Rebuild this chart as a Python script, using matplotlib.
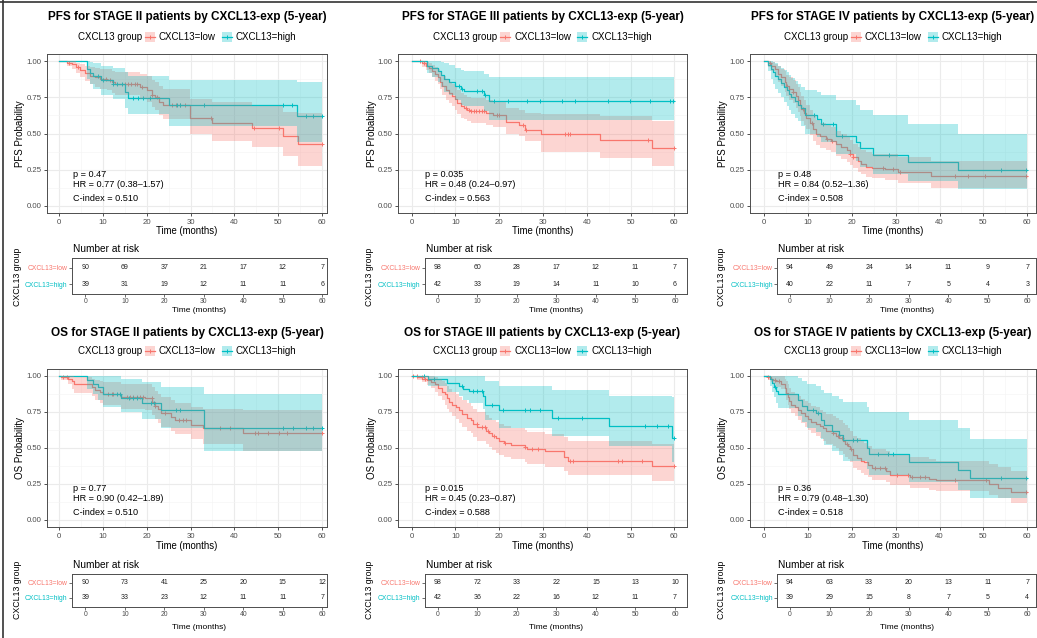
import numpy as np
import matplotlib
matplotlib.use("Agg")
import matplotlib.pyplot as plt
from matplotlib.lines import Line2D
from matplotlib.patches import Rectangle
from matplotlib.ticker import MultipleLocator

plt.rcParams['font.family'] = ['Liberation Sans', 'DejaVu Sans']

RED = '#F8766D'
TEAL = '#00BFC4'

# ---------------- data ----------------
group_labels = ["CXCL13=low", "CXCL13=high"]
risk_times = [0, 10, 20, 30, 40, 50, 60]

# PFS stage II
pfs2_low_t  = [0, 1.7, 2.8, 3.8, 4.7, 5.9, 7.0, 8.2, 9.3, 10.8, 12.1, 12.7, 18.4, 20.0, 21.1, 21.9, 22.9, 23.8, 29.9, 34.9, 44.0, 51.2, 54.6]
pfs2_low_s  = [1.0, 0.99, 0.98, 0.96, 0.94, 0.92, 0.90, 0.89, 0.88, 0.87, 0.855, 0.84, 0.82, 0.80, 0.77, 0.75, 0.72, 0.70, 0.61, 0.575, 0.54, 0.485, 0.425]
pfs2_low_lo = [1.0, 0.97, 0.95, 0.92, 0.89, 0.865, 0.84, 0.825, 0.81, 0.80, 0.78, 0.765, 0.74, 0.72, 0.685, 0.66, 0.63, 0.60, 0.50, 0.445, 0.405, 0.345, 0.277]
pfs2_low_hi = [1.0, 1.0, 1.0, 0.99, 0.98, 0.97, 0.96, 0.955, 0.95, 0.945, 0.935, 0.925, 0.91, 0.895, 0.87, 0.855, 0.83, 0.81, 0.74, 0.72, 0.69, 0.65, 0.64]
pfs2_low_cens = [2.2, 4.2, 10.7, 11.6, 15.0, 15.8, 16.5, 17.3, 17.8, 18.8, 21.3, 22.3, 25.7, 26.7, 27.6, 28.7, 34.8, 44.5, 50.3, 60.0]
pfs2_high_t  = [0, 6.3, 7.1, 7.8, 9.5, 12.3, 15.0, 15.8, 25.0, 54.3]
pfs2_high_s  = [1.0, 0.95, 0.92, 0.90, 0.87, 0.845, 0.79, 0.745, 0.70, 0.62]
pfs2_high_lo = [1.0, 0.88, 0.84, 0.81, 0.77, 0.74, 0.68, 0.635, 0.555, 0.44]
pfs2_high_hi = [1.0, 1.0, 0.995, 0.985, 0.97, 0.955, 0.925, 0.895, 0.87, 0.86]
pfs2_high_cens = [8.9, 10.1, 12.3, 13.3, 14.3, 16.9, 18.1, 19.2, 20.7, 26.8, 27.6, 33.2, 51.2, 53.1, 56.4, 58.1, 60.0]
pfs2_risk_low  = [90, 69, 37, 21, 17, 12, 7]
pfs2_risk_high = [39, 31, 19, 12, 11, 11, 6]
pfs2_stats = ["0.47", "0.77 (0.38\u20131.57)", "0.510"]

# PFS stage III
pfs3_low_t  = [0, 2.4, 3.2, 4.0, 4.6, 5.3, 5.9, 6.5, 7.0, 7.8, 8.5, 9.3, 9.9, 10.4, 11.2, 12.0, 12.7, 13.5, 17.0, 18.5, 21.5, 24.5, 26.0, 29.5, 43.0, 55.0]
pfs3_low_s  = [1.0, 0.985, 0.97, 0.955, 0.93, 0.91, 0.89, 0.86, 0.83, 0.80, 0.78, 0.76, 0.74, 0.71, 0.69, 0.68, 0.665, 0.655, 0.64, 0.625, 0.578, 0.56, 0.525, 0.497, 0.455, 0.40]
pfs3_low_lo = [1.0, 0.96, 0.94, 0.92, 0.89, 0.865, 0.84, 0.805, 0.77, 0.735, 0.71, 0.69, 0.665, 0.635, 0.61, 0.60, 0.585, 0.575, 0.56, 0.545, 0.50, 0.48, 0.445, 0.375, 0.33, 0.272]
pfs3_low_hi = [1.0, 1.0, 0.995, 0.99, 0.975, 0.96, 0.945, 0.925, 0.90, 0.875, 0.86, 0.84, 0.825, 0.80, 0.78, 0.77, 0.755, 0.745, 0.73, 0.715, 0.68, 0.665, 0.645, 0.635, 0.62, 0.59]
pfs3_low_cens = [2.0, 2.8, 12.5, 13.0, 13.6, 14.2, 14.8, 15.4, 16.0, 16.6, 19.5, 20.0, 25.5, 26.2, 35.0, 35.6, 36.2, 54.0, 60.0]
pfs3_high_t  = [0, 3.6, 4.7, 5.9, 6.6, 7.4, 8.5, 10.0, 11.2, 12.0, 16.5, 17.7]
pfs3_high_s  = [1.0, 0.97, 0.955, 0.935, 0.905, 0.88, 0.86, 0.83, 0.805, 0.795, 0.77, 0.722]
pfs3_high_lo = [1.0, 0.92, 0.89, 0.86, 0.82, 0.79, 0.765, 0.73, 0.70, 0.69, 0.655, 0.595]
pfs3_high_hi = [1.0, 1.0, 1.0, 1.0, 0.995, 0.985, 0.975, 0.955, 0.94, 0.93, 0.91, 0.89]
pfs3_high_cens = [10.7, 11.6, 14.9, 16.0, 16.8, 18.7, 22.1, 26.3, 29.3, 34.3, 37.3, 44.9, 49.9, 54.5, 59.0, 59.8]
pfs3_risk_low  = [98, 60, 28, 17, 12, 11, 7]
pfs3_risk_high = [42, 33, 19, 14, 11, 10, 6]
pfs3_stats = ["0.035", "0.48 (0.24\u20130.97)", "0.563"]

# PFS stage IV
pfs4_low_t  = [0, 0.9, 1.7, 2.4, 3.2, 3.9, 4.7, 5.1, 5.8, 6.6, 7.4, 7.7, 8.1, 8.5, 9.1, 9.6, 10.4, 11.2, 11.9, 12.7, 14.2, 15.3, 16.5, 17.6, 18.8, 19.5, 20.3, 21.4, 22.2, 23.3, 24.5, 27.5, 30.5, 38.0]
pfs4_low_s  = [1.0, 0.985, 0.97, 0.945, 0.915, 0.89, 0.86, 0.83, 0.81, 0.785, 0.76, 0.73, 0.70, 0.67, 0.64, 0.61, 0.57, 0.53, 0.50, 0.48, 0.465, 0.45, 0.425, 0.405, 0.385, 0.36, 0.335, 0.31, 0.29, 0.27, 0.263, 0.255, 0.235, 0.205]
pfs4_low_lo = [1.0, 0.96, 0.93, 0.90, 0.86, 0.83, 0.79, 0.76, 0.735, 0.71, 0.68, 0.65, 0.62, 0.59, 0.56, 0.53, 0.49, 0.45, 0.42, 0.40, 0.385, 0.37, 0.345, 0.325, 0.305, 0.28, 0.26, 0.235, 0.22, 0.20, 0.19, 0.18, 0.155, 0.125]
pfs4_low_hi = [1.0, 1.0, 0.995, 0.98, 0.965, 0.95, 0.93, 0.905, 0.89, 0.87, 0.845, 0.82, 0.79, 0.76, 0.73, 0.70, 0.665, 0.625, 0.595, 0.575, 0.56, 0.545, 0.52, 0.50, 0.48, 0.455, 0.43, 0.405, 0.385, 0.37, 0.36, 0.355, 0.335, 0.31]
pfs4_low_cens = [1.4, 5.2, 6.7, 9.0, 10.9, 14.3, 15.4, 19.6, 20.3, 27.2, 29.5, 31.0, 43.5, 46.5, 50.3, 59.8]
pfs4_high_t  = [0, 1.0, 1.7, 2.1, 2.6, 3.2, 3.9, 4.6, 5.3, 5.6, 6.1, 7.0, 7.7, 8.5, 9.3, 12.0, 13.0, 16.5, 21.0, 21.8, 24.8, 32.8, 44.2]
pfs4_high_s  = [1.0, 0.975, 0.95, 0.925, 0.90, 0.875, 0.85, 0.825, 0.80, 0.775, 0.75, 0.725, 0.70, 0.675, 0.625, 0.60, 0.565, 0.485, 0.44, 0.40, 0.35, 0.30, 0.245]
pfs4_high_lo = [1.0, 0.93, 0.88, 0.845, 0.81, 0.78, 0.75, 0.72, 0.69, 0.665, 0.635, 0.61, 0.585, 0.555, 0.50, 0.475, 0.44, 0.36, 0.31, 0.27, 0.22, 0.17, 0.117]
pfs4_high_hi = [1.0, 1.0, 1.0, 0.995, 0.985, 0.97, 0.955, 0.94, 0.925, 0.905, 0.885, 0.865, 0.845, 0.82, 0.80, 0.79, 0.77, 0.735, 0.70, 0.665, 0.625, 0.565, 0.50]
pfs4_high_cens = [11.4, 13.5, 15.8, 17.7, 28.4, 54.1, 59.8]
pfs4_risk_low  = [94, 49, 24, 14, 11, 9, 7]
pfs4_risk_high = [40, 22, 11, 7, 5, 4, 3]
pfs4_stats = ["0.48", "0.84 (0.52\u20131.36)", "0.508"]

# OS stage II
os2_low_t  = [0, 0.5, 2.1, 2.8, 3.3, 7.4, 8.2, 9.3, 10.0, 14.0, 19.5, 21.3, 21.8, 22.5, 23.2, 25.5, 26.4, 30.0, 32.9, 41.9]
os2_low_s  = [1.0, 0.99, 0.975, 0.96, 0.94, 0.92, 0.90, 0.885, 0.875, 0.855, 0.845, 0.82, 0.79, 0.77, 0.74, 0.715, 0.69, 0.66, 0.635, 0.60]
os2_low_lo = [1.0, 0.97, 0.94, 0.91, 0.88, 0.86, 0.83, 0.81, 0.80, 0.77, 0.76, 0.73, 0.70, 0.67, 0.645, 0.62, 0.595, 0.56, 0.53, 0.475]
os2_low_hi = [1.0, 1.0, 1.0, 0.995, 0.99, 0.98, 0.97, 0.96, 0.955, 0.945, 0.94, 0.92, 0.895, 0.875, 0.85, 0.83, 0.81, 0.785, 0.77, 0.765]
os2_low_cens = [0.8, 1.7, 11.2, 12.0, 12.3, 15.4, 16.2, 16.9, 17.7, 18.4, 19.2, 21.1, 21.9, 24.2, 27.4, 28.2, 28.9, 36.7, 39.0, 44.7, 45.5, 47.8, 50.3, 52.1, 60.0]
os2_high_t  = [0, 6.4, 7.8, 8.9, 10.1, 14.0, 19.0, 23.2, 33.0]
os2_high_s  = [1.0, 0.97, 0.945, 0.92, 0.875, 0.845, 0.81, 0.76, 0.64]
os2_high_lo = [1.0, 0.91, 0.87, 0.83, 0.78, 0.745, 0.70, 0.64, 0.48]
os2_high_hi = [1.0, 1.0, 1.0, 1.0, 1.0, 0.98, 0.955, 0.92, 0.875]
os2_high_cens = [13.1, 13.9, 16.0, 16.9, 17.7, 20.9, 21.6, 26.7, 27.6, 51.2, 53.4, 56.4, 57.9, 60.0]
os2_risk_low  = [90, 73, 41, 25, 20, 15, 12]
os2_risk_high = [39, 33, 23, 12, 11, 11, 7]
os2_stats = ["0.77", "0.90 (0.42\u20131.89)", "0.510"]

# OS stage III
os3_low_t  = [0, 1.3, 2.4, 3.6, 4.3, 5.3, 6.1, 6.9, 7.6, 8.1, 8.5, 9.3, 10.1, 10.8, 11.6, 12.7, 13.5, 13.9, 15.0, 16.9, 17.7, 18.4, 19.2, 20.0, 21.1, 22.6, 25.8, 26.4, 30.5, 34.8, 35.6, 54.8]
os3_low_s  = [1.0, 0.99, 0.98, 0.97, 0.955, 0.94, 0.915, 0.89, 0.87, 0.845, 0.82, 0.80, 0.78, 0.76, 0.735, 0.71, 0.69, 0.665, 0.645, 0.62, 0.60, 0.58, 0.565, 0.55, 0.535, 0.52, 0.505, 0.49, 0.475, 0.44, 0.41, 0.375]
os3_low_lo = [1.0, 0.97, 0.955, 0.935, 0.915, 0.89, 0.86, 0.83, 0.80, 0.77, 0.745, 0.72, 0.70, 0.675, 0.645, 0.62, 0.60, 0.575, 0.55, 0.525, 0.505, 0.485, 0.465, 0.45, 0.435, 0.42, 0.405, 0.39, 0.37, 0.34, 0.31, 0.27]
os3_low_hi = [1.0, 1.0, 1.0, 1.0, 0.995, 0.99, 0.98, 0.965, 0.95, 0.93, 0.91, 0.89, 0.87, 0.855, 0.835, 0.81, 0.79, 0.77, 0.75, 0.73, 0.71, 0.695, 0.68, 0.665, 0.65, 0.64, 0.625, 0.61, 0.595, 0.575, 0.55, 0.53]
os3_low_cens = [0.4, 1.1, 2.3, 3.0, 14.9, 16.0, 16.7, 17.5, 18.7, 21.3, 25.9, 27.4, 28.9, 36.2, 36.8, 47.2, 48.0, 52.6, 60.0]
os3_high_t  = [0, 3.8, 8.0, 10.7, 11.8, 13.0, 16.3, 16.8, 20.0, 32.0, 45.0, 59.5]
os3_high_s  = [1.0, 0.975, 0.95, 0.93, 0.91, 0.895, 0.86, 0.80, 0.76, 0.71, 0.65, 0.57]
os3_high_lo = [1.0, 0.93, 0.89, 0.86, 0.83, 0.81, 0.77, 0.69, 0.64, 0.585, 0.515, 0.40]
os3_high_hi = [1.0, 1.0, 1.0, 1.0, 1.0, 1.0, 1.0, 0.965, 0.93, 0.90, 0.86, 0.85]
os3_high_cens = [2.7, 5.0, 11.4, 14.1, 14.9, 16.0, 18.3, 20.9, 25.9, 27.0, 29.3, 33.5, 38.9, 53.3, 56.0, 58.6, 60.0]
os3_risk_low  = [98, 72, 33, 22, 15, 13, 10]
os3_risk_high = [42, 36, 22, 16, 12, 11, 7]
os3_stats = ["0.015", "0.45 (0.23\u20130.87)", "0.588"]

# OS stage IV
os4_low_t  = [0, 0.9, 1.7, 2.1, 2.8, 3.9, 4.7, 5.1, 5.5, 5.8, 6.2, 7.0, 7.7, 8.5, 9.3, 10.0, 10.8, 11.9, 12.7, 13.4, 14.2, 15.7, 16.5, 17.2, 18.0, 18.4, 19.1, 19.6, 20.3, 21.2, 22.0, 22.8, 23.8, 24.5, 27.9, 28.7, 33.2, 37.7, 39.3, 51.2, 53.4, 56.3]
os4_low_s  = [1.0, 0.99, 0.98, 0.97, 0.96, 0.945, 0.915, 0.88, 0.855, 0.825, 0.80, 0.78, 0.76, 0.74, 0.72, 0.70, 0.68, 0.665, 0.65, 0.635, 0.615, 0.60, 0.585, 0.57, 0.55, 0.53, 0.51, 0.49, 0.45, 0.43, 0.41, 0.40, 0.38, 0.36, 0.34, 0.315, 0.30, 0.285, 0.275, 0.25, 0.225, 0.197]
os4_low_lo = [1.0, 0.97, 0.955, 0.94, 0.925, 0.905, 0.87, 0.83, 0.80, 0.77, 0.74, 0.72, 0.695, 0.67, 0.645, 0.625, 0.60, 0.585, 0.57, 0.55, 0.53, 0.515, 0.50, 0.48, 0.46, 0.44, 0.42, 0.40, 0.36, 0.345, 0.325, 0.315, 0.295, 0.28, 0.26, 0.24, 0.225, 0.21, 0.20, 0.175, 0.15, 0.12]
os4_low_hi = [1.0, 1.0, 1.0, 1.0, 1.0, 0.995, 0.98, 0.96, 0.94, 0.915, 0.89, 0.875, 0.86, 0.84, 0.825, 0.81, 0.79, 0.78, 0.765, 0.75, 0.735, 0.72, 0.71, 0.695, 0.675, 0.655, 0.64, 0.62, 0.585, 0.565, 0.545, 0.535, 0.515, 0.495, 0.475, 0.45, 0.435, 0.42, 0.41, 0.39, 0.37, 0.34]
os4_low_cens = [1.0, 2.4, 3.5, 15.8, 16.8, 17.7, 18.8, 19.8, 25.3, 26.4, 27.5, 30.2, 32.9, 33.7, 35.5, 36.7, 43.5, 50.6, 59.8]
os4_high_t  = [0, 1.3, 1.8, 2.3, 2.8, 3.3, 7.8, 8.7, 9.9, 11.9, 13.0, 13.6, 15.4, 17.2, 18.0, 23.4, 24.0, 33.0, 44.3, 46.9]
os4_high_s  = [1.0, 0.975, 0.95, 0.92, 0.895, 0.87, 0.83, 0.79, 0.76, 0.74, 0.69, 0.655, 0.62, 0.59, 0.555, 0.50, 0.46, 0.405, 0.345, 0.29]
os4_high_lo = [1.0, 0.93, 0.89, 0.85, 0.81, 0.775, 0.72, 0.68, 0.64, 0.61, 0.56, 0.52, 0.48, 0.45, 0.41, 0.355, 0.315, 0.26, 0.21, 0.155]
os4_high_hi = [1.0, 1.0, 1.0, 1.0, 1.0, 1.0, 0.985, 0.96, 0.94, 0.93, 0.90, 0.88, 0.86, 0.84, 0.82, 0.78, 0.75, 0.69, 0.635, 0.56]
os4_high_cens = [2.5, 11.2, 12.4, 20.3, 21.1, 26.0, 28.3, 29.5, 54.1, 59.8]
os4_risk_low  = [94, 63, 33, 20, 13, 11, 7]
os4_risk_high = [39, 29, 15, 8, 7, 5, 4]
os4_stats = ["0.36", "0.79 (0.48\u20131.30)", "0.518"]

panels = [
    dict(title="PFS for STAGE II patients by CXCL13-exp (5-year)", ylab="PFS Probability", row=0, col=0,
         low=(pfs2_low_t, pfs2_low_s, pfs2_low_lo, pfs2_low_hi, pfs2_low_cens),
         high=(pfs2_high_t, pfs2_high_s, pfs2_high_lo, pfs2_high_hi, pfs2_high_cens),
         risk=(pfs2_risk_low, pfs2_risk_high), stats=pfs2_stats),
    dict(title="PFS for STAGE III patients by CXCL13-exp (5-year)", ylab="PFS Probability", row=0, col=1,
         low=(pfs3_low_t, pfs3_low_s, pfs3_low_lo, pfs3_low_hi, pfs3_low_cens),
         high=(pfs3_high_t, pfs3_high_s, pfs3_high_lo, pfs3_high_hi, pfs3_high_cens),
         risk=(pfs3_risk_low, pfs3_risk_high), stats=pfs3_stats),
    dict(title="PFS for STAGE IV patients by CXCL13-exp (5-year)", ylab="PFS Probability", row=0, col=2,
         low=(pfs4_low_t, pfs4_low_s, pfs4_low_lo, pfs4_low_hi, pfs4_low_cens),
         high=(pfs4_high_t, pfs4_high_s, pfs4_high_lo, pfs4_high_hi, pfs4_high_cens),
         risk=(pfs4_risk_low, pfs4_risk_high), stats=pfs4_stats),
    dict(title="OS for STAGE II patients by CXCL13-exp (5-year)", ylab="OS Probability", row=1, col=0,
         low=(os2_low_t, os2_low_s, os2_low_lo, os2_low_hi, os2_low_cens),
         high=(os2_high_t, os2_high_s, os2_high_lo, os2_high_hi, os2_high_cens),
         risk=(os2_risk_low, os2_risk_high), stats=os2_stats),
    dict(title="OS for STAGE III patients by CXCL13-exp (5-year)", ylab="OS Probability", row=1, col=1,
         low=(os3_low_t, os3_low_s, os3_low_lo, os3_low_hi, os3_low_cens),
         high=(os3_high_t, os3_high_s, os3_high_lo, os3_high_hi, os3_high_cens),
         risk=(os3_risk_low, os3_risk_high), stats=os3_stats),
    dict(title="OS for STAGE IV patients by CXCL13-exp (5-year)", ylab="OS Probability", row=1, col=2,
         low=(os4_low_t, os4_low_s, os4_low_lo, os4_low_hi, os4_low_cens),
         high=(os4_high_t, os4_high_s, os4_high_lo, os4_high_hi, os4_high_cens),
         risk=(os4_risk_low, os4_risk_high), stats=os4_stats),
]

# ---------------- layout (pixels) ----------------
W, H = 1037, 638
COLS = [
    dict(l=47, r=327, x0=59.3, x60=321.7, tl=72, tx0=85.3, tx60=322.3, ylab_x=20, grp_x=18),
    dict(l=398.3, r=686.7, x0=411.7, x60=674.3, tl=425, tx0=437.7, tx60=675, ylab_x=371.7, grp_x=370),
    dict(l=750, r=1036, x0=764, x60=1027.3, tl=777.3, tx0=790, tx60=1027.3, ylab_x=723.3, grp_x=721.7),
]
ROWS = [
    dict(t=54, b=213, y1=61.3, y0=205.7, title_y=17, leg_y=36.7, xlab_y=230.7, nar_y=249,
         tt=258, tb=294, txlab_y=310, grp_y=277),
    dict(t=368.7, b=527.3, y1=375.7, y0=520, title_y=333, leg_y=351.3, xlab_y=546.3, nar_y=564.7,
         tt=573.7, tb=607, txlab_y=627.5, grp_y=590),
]

fig = plt.figure(figsize=(W / 100, H / 100), dpi=100)
fig.patch.set_facecolor('white')
renderer = fig.canvas.get_renderer()


def add_ax(l, t, r, b):
    return fig.add_axes([l / W, 1 - b / H, (r - l) / W, (b - t) / H])


def ftext(x, y, s, **kw):
    return fig.text(x / W, 1 - y / H, s, **kw)


def step_ext(t, v):
    return np.append(np.asarray(t, float), 60.0), np.append(np.asarray(v, float), v[-1])


def draw_legend(cx, cy):
    fs = 7.0
    t0 = ftext(0, cy, "CXCL13 group", size=fs, va='center', ha='left')
    t1 = ftext(0, cy, group_labels[0], size=fs, va='center', ha='left')
    t2 = ftext(0, cy, group_labels[1], size=fs, va='center', ha='left')
    w0 = t0.get_window_extent(renderer).width
    w1 = t1.get_window_extent(renderer).width
    w2 = t2.get_window_extent(renderer).width
    kw, kh = 10, 10
    total = w0 + 3 + kw + 4 + w1 + 6 + kw + 4 + w2
    x = cx - total / 2
    t0.set_x(x / W)
    x += w0 + 3
    for col, tt, ww in ((RED, t1, w1), (TEAL, t2, w2)):
        rect = Rectangle((x / W, 1 - (cy + kh / 2) / H), kw / W, kh / H,
                         transform=fig.transFigure, facecolor=col, alpha=0.3, lw=0)
        fig.add_artist(rect)
        fig.add_artist(Line2D([x / W, (x + kw) / W], [1 - cy / H, 1 - cy / H],
                              transform=fig.transFigure, color=col, lw=0.9))
        fig.add_artist(Line2D([(x + kw / 2) / W], [1 - cy / H], transform=fig.transFigure,
                              color=col, marker='+', ms=3.5, mew=0.7, ls='none'))
        x += kw + 4
        tt.set_x(x / W)
        x += ww + 6


for p in panels:
    C = COLS[p['col']]
    R = ROWS[p['row']]
    ax = add_ax(C['l'], R['t'], C['r'], R['b'])
    ppm = (C['x60'] - C['x0']) / 60.0
    ax.set_xlim(-(C['x0'] - C['l']) / ppm, 60 + (C['r'] - C['x60']) / ppm)
    ppu = R['y0'] - R['y1']
    ax.set_ylim(-(R['b'] - R['y0']) / ppu, 1 + (R['y1'] - R['t']) / ppu)

    ax.set_xticks(risk_times)
    ax.set_yticks([0, 0.25, 0.5, 0.75, 1.0])
    ax.set_yticklabels(["0.00", "0.25", "0.50", "0.75", "1.00"])
    ax.xaxis.set_minor_locator(MultipleLocator(5))
    ax.yaxis.set_minor_locator(MultipleLocator(0.125))
    ax.grid(which='major', color='#EBEBEB', lw=0.8)
    ax.grid(which='minor', color='#F4F4F4', lw=0.45)
    ax.set_axisbelow(True)
    ax.tick_params(which='major', length=2.5, width=0.6, color='#333333', labelsize=5.6,
                   labelcolor='#4D4D4D', pad=1.5)
    ax.tick_params(which='minor', length=0)
    for sp in ax.spines.values():
        sp.set_color('#4D4D4D')
        sp.set_linewidth(0.7)

    for key, col, zf in (('low', RED, 3), ('high', TEAL, 4)):
        t, s, lo, hi, cens = p[key]
        tx, sx = step_ext(t, s)
        _, lox = step_ext(t, lo)
        _, hix = step_ext(t, hi)
        ax.step(tx, sx, where='post', color=col, lw=0.9, zorder=2)
        ax.fill_between(tx, lox, hix, step='post', color=col, alpha=0.3, lw=0, zorder=zf)
        ta = np.asarray(t, float)
        sa = np.asarray(s, float)
        cy = sa[np.searchsorted(ta, np.asarray(cens, float), side='right') - 1]
        ax.plot(cens, cy, ls='none', marker='+', ms=3.5, mew=0.7, color=col, zorder=2)

    pv, hr, ci = p['stats']
    ax.text(3.1, 0.215, "p = " + pv, size=6.6, va='center', ha='left', zorder=6)
    ax.text(3.1, 0.150, "HR = " + hr, size=6.6, va='center', ha='left', zorder=6)
    ax.text(3.1, 0.050, "C-index = " + ci, size=6.6, va='center', ha='left', zorder=6)

    cx = (C['l'] + C['r']) / 2
    ftext(cx, R['title_y'], p['title'], size=8.5, weight='bold', ha='center', va='center')
    draw_legend(cx, R['leg_y'])
    ftext(cx, R['xlab_y'], "Time (months)", size=6.9, ha='center', va='center')
    ftext(C['ylab_x'], (R['t'] + R['b']) / 2, p['ylab'], size=7.0, rotation=90,
          ha='center', va='center')

    # risk table
    tax = add_ax(C['tl'], R['tt'], C['r'], R['tb'])
    tppm = (C['tx60'] - C['tx0']) / 60.0
    tax.set_xlim(-(C['tx0'] - C['tl']) / tppm, 60 + (C['r'] - C['tx60']) / tppm)
    tax.set_ylim(0.4, 2.6)
    rl, rh = p['risk']
    for xt, a, b in zip(risk_times, rl, rh):
        tax.text(xt, 2, str(a), size=5.0, ha='center', va='center', color='#222222')
        tax.text(xt, 1, str(b), size=5.0, ha='center', va='center', color='#222222')
    tax.set_xticks(risk_times)
    tax.set_yticks([2, 1])
    tax.set_yticklabels(group_labels)
    tax.tick_params(length=2.0, width=0.5, color='#333333', labelsize=4.9,
                    labelcolor='#4D4D4D', pad=1.2)
    for lab, col in zip(tax.get_yticklabels(), (RED, TEAL)):
        lab.set_color(col)
    for sp in tax.spines.values():
        sp.set_color('#4D4D4D')
        sp.set_linewidth(0.7)
    ftext(C['tl'] + 1, R['nar_y'], "Number at risk", size=7.3, ha='left', va='center')
    ftext((C['tl'] + C['r']) / 2, R['txlab_y'], "Time (months)", size=6.0, ha='center', va='center')
    ftext(C['grp_x'], R['grp_y'], "CXCL13 group", size=6.3, rotation=90, ha='center', va='center')

# outer frame lines of the screenshot
fig.add_artist(Line2D([0, 1], [1 - 2 / H, 1 - 2 / H], transform=fig.transFigure, color='#333333', lw=1.2))
fig.add_artist(Line2D([2.5 / W, 2.5 / W], [0, 1], transform=fig.transFigure, color='#333333', lw=1.2))

fig.savefig("out.png", dpi=100, facecolor='white')
